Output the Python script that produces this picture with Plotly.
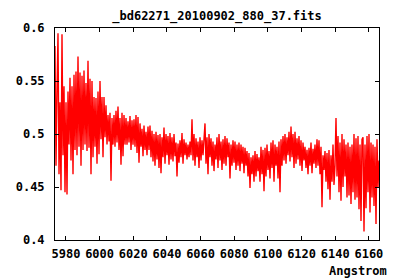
import numpy as np
import plotly.graph_objects as go

title_text = "_bd62271_20100902_880_37.fits"
x_label = "Angstrom"
wave_start = 5973.5
wave_end = 6166.0

flux = [
    0.583, 0.470, 0.540, 0.595, 0.462, 0.530, 0.447, 0.594, 0.480, 0.545,
    0.445, 0.530, 0.443, 0.540, 0.490, 0.553, 0.475, 0.545, 0.462, 0.556,
    0.485, 0.559, 0.480, 0.573, 0.488, 0.558, 0.470, 0.555, 0.485, 0.560,
    0.490, 0.548, 0.484, 0.569, 0.487, 0.552, 0.462, 0.550, 0.478, 0.535,
    0.488, 0.534, 0.472, 0.540, 0.481, 0.550, 0.495, 0.535, 0.478, 0.535,
    0.497, 0.527, 0.490, 0.518, 0.493, 0.520, 0.456, 0.515, 0.490, 0.518,
    0.488, 0.522, 0.492, 0.526, 0.485, 0.515, 0.471, 0.520, 0.479, 0.518,
    0.490, 0.515, 0.490, 0.512, 0.492, 0.517, 0.485, 0.513, 0.490, 0.514,
    0.488, 0.518, 0.482, 0.516, 0.473, 0.510, 0.488, 0.505, 0.479, 0.508,
    0.485, 0.502, 0.480, 0.507, 0.485, 0.508, 0.478, 0.503, 0.474, 0.500,
    0.470, 0.502, 0.476, 0.499, 0.468, 0.500, 0.463, 0.497, 0.478, 0.506,
    0.472, 0.500, 0.480, 0.498, 0.471, 0.501, 0.476, 0.497, 0.474, 0.500,
    0.479, 0.492, 0.460, 0.491, 0.473, 0.494, 0.478, 0.501, 0.472, 0.495,
    0.480, 0.492, 0.476, 0.490, 0.478, 0.493, 0.480, 0.514, 0.475, 0.500,
    0.470, 0.496, 0.478, 0.493, 0.468, 0.497, 0.475, 0.494, 0.480, 0.500,
    0.510, 0.472, 0.497, 0.462, 0.500, 0.478, 0.496, 0.470, 0.493, 0.465,
    0.490, 0.476, 0.497, 0.468, 0.500, 0.475, 0.493, 0.466, 0.495, 0.472,
    0.498, 0.470, 0.496, 0.478, 0.492, 0.458, 0.490, 0.470, 0.494, 0.473,
    0.493, 0.466, 0.490, 0.470, 0.492, 0.465, 0.490, 0.472, 0.488, 0.463,
    0.487, 0.470, 0.484, 0.460, 0.482, 0.449, 0.478, 0.462, 0.480, 0.455,
    0.484, 0.460, 0.481, 0.465, 0.478, 0.455, 0.488, 0.462, 0.485, 0.446,
    0.487, 0.460, 0.490, 0.466, 0.484, 0.458, 0.492, 0.468, 0.494, 0.455,
    0.490, 0.470, 0.488, 0.458, 0.493, 0.445, 0.495, 0.470, 0.498, 0.475,
    0.500, 0.472, 0.497, 0.480, 0.502, 0.474, 0.507, 0.478, 0.500, 0.468,
    0.502, 0.472, 0.496, 0.476, 0.498, 0.470, 0.494, 0.465, 0.492, 0.475,
    0.488, 0.468, 0.485, 0.462, 0.487, 0.470, 0.492, 0.463, 0.486, 0.472,
    0.490, 0.468, 0.495, 0.470, 0.494, 0.462, 0.488, 0.431, 0.480, 0.466,
    0.484, 0.455, 0.482, 0.448, 0.485, 0.438, 0.480, 0.455, 0.490, 0.452,
    0.470, 0.515, 0.460, 0.498, 0.445, 0.492, 0.437, 0.500, 0.450, 0.495,
    0.460, 0.490, 0.440, 0.492, 0.442, 0.488, 0.434, 0.490, 0.445, 0.500,
    0.438, 0.496, 0.440, 0.498, 0.429, 0.490, 0.418, 0.495, 0.497, 0.408,
    0.490, 0.430, 0.498, 0.445, 0.500, 0.426, 0.492, 0.440, 0.490, 0.432,
    0.488, 0.415, 0.495, 0.450, 0.475,
]

x_ticks = [5980, 6000, 6020, 6040, 6060, 6080, 6100, 6120, 6140, 6160]
y_ticks = [0.4, 0.45, 0.5, 0.55, 0.6]
y_tick_labels = ["0.4", "0.45", "0.5", "0.55", "0.6"]

wave = np.linspace(wave_start, wave_end, len(flux))

font_family = "DejaVu Sans Mono"
tick_font = dict(family=font_family, size=12, color="black", weight="bold")

fig = go.Figure()
fig.add_trace(go.Scatter(
    x=wave, y=flux, mode="lines",
    line=dict(color="#ff0000", width=1.4),
    showlegend=False, hoverinfo="skip",
))

axis_common = dict(
    showline=True, linecolor="black", linewidth=1, mirror="ticks",
    ticks="inside", ticklen=4, tickwidth=1, tickcolor="black",
    showgrid=False, zeroline=False, tickfont=tick_font,
)

fig.update_layout(
    width=400, height=280,
    margin=dict(l=55, r=21, t=28, b=40),
    paper_bgcolor="white", plot_bgcolor="white",
    xaxis=dict(range=[wave_start, wave_end], tickvals=x_ticks,
               ticklabelstandoff=3, **axis_common),
    yaxis=dict(range=[0.4, 0.6], tickvals=y_ticks, ticktext=y_tick_labels,
               ticklabelstandoff=7, **axis_common),
    title=dict(text=title_text, x=0.5, xref="paper", y=1 - 16 / 280, yanchor="middle",
               font=dict(family=font_family, size=12, color="black", weight="bold")),
    annotations=[dict(
        text=x_label, xref="paper", yref="paper", x=1.03, y=-0.145,
        xanchor="right", yanchor="middle", showarrow=False,
        font=dict(family=font_family, size=12, color="black", weight="bold"),
    )],
)

fig.write_html("out.html")
